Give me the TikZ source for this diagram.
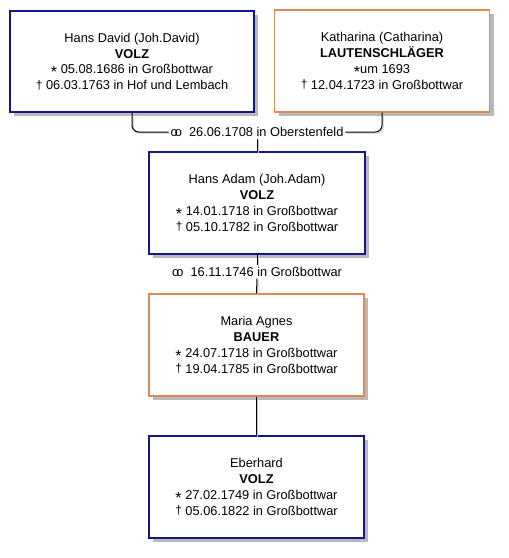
\documentclass[tikz,border=0pt]{standalone}
\usepackage{fontspec}
\setmainfont{Liberation Sans}
\usetikzlibrary{shadows}
\definecolor{mblue}{RGB}{20,20,140}
\definecolor{forange}{RGB}{225,135,90}
\newcommand{\bornsym}{\raisebox{-0.55ex}{\large *}\ }
\newcommand{\diedsym}{\raisebox{0.1ex}{\small †}\ }
\newcommand{\marrsym}{o\kern-0.22em o\ \ }
\tikzset{
  person/.style={draw, fill=white, align=center, inner sep=0pt, line width=0.8pt,
    font=\fontsize{9.6}{11.8}\selectfont,
    drop shadow={shadow xshift=3pt, shadow yshift=-3pt, fill=gray!55, opacity=1}},
  male/.style={person, draw=mblue},
  female/.style={person, draw=forange},
  marr/.style={inner sep=1.2pt, font=\fontsize{9.6}{11}\selectfont},
  conn/.style={draw=black, line width=0.75pt, rounded corners=5pt,
    preaction={draw=gray!45, line width=0.75pt, transform canvas={shift={(0.9pt,-0.9pt)}}}}
}
\begin{document}
\begin{tikzpicture}[x=0.75pt, y=-0.75pt]
\useasboundingbox (0,0) rectangle (509,558);
\node[male, minimum width=183pt, minimum height=75.75pt] (b1) at (132,61.5)
  {Hans David (Joh.David)\\\textbf{VOLZ}\\\bornsym05.08.1686 in Großbottwar\\\diedsym06.03.1763 in Hof und Lembach};
\node[female, minimum width=161.25pt, minimum height=76.5pt] (b2) at (382,61)
  {Katharina (Catharina)\\\textbf{LAUTENSCHLÄGER}\\\raisebox{-0.55ex}{\large *}um 1693\\\diedsym12.04.1723 in Großbottwar};
\node[male, minimum width=162pt, minimum height=76.5pt] (b3) at (257,203)
  {Hans Adam (Joh.Adam)\\\textbf{VOLZ}\\\bornsym14.01.1718 in Großbottwar\\\diedsym05.10.1782 in Großbottwar};
\node[female, minimum width=161.25pt, minimum height=76.5pt] (b4) at (256.5,345)
  {Maria Agnes\\\textbf{BAUER}\\\bornsym24.07.1718 in Großbottwar\\\diedsym19.04.1785 in Großbottwar};
\node[male, minimum width=161.25pt, minimum height=76.5pt] (b5) at (256.5,487)
  {Eberhard\\\textbf{VOLZ}\\\bornsym27.02.1749 in Großbottwar\\\diedsym05.06.1822 in Großbottwar};
\node[marr] (m1) at (257,132) {\marrsym 26.06.1708 in Oberstenfeld};
\node[marr] (m2) at (257,272) {\marrsym 16.11.1746 in Großbottwar};
\draw[conn] (b1.south) |- (m1.west);
\draw[conn] (b2.south) |- (m1.east);
\draw[conn] (m1.south) -- (b3.north);
\draw[conn] (b3.south) -- (m2.north);
\draw[conn] (m2.south) -- (b4.north);
\draw[conn] (b4.south) -- (b5.north);
\end{tikzpicture}
\end{document}
